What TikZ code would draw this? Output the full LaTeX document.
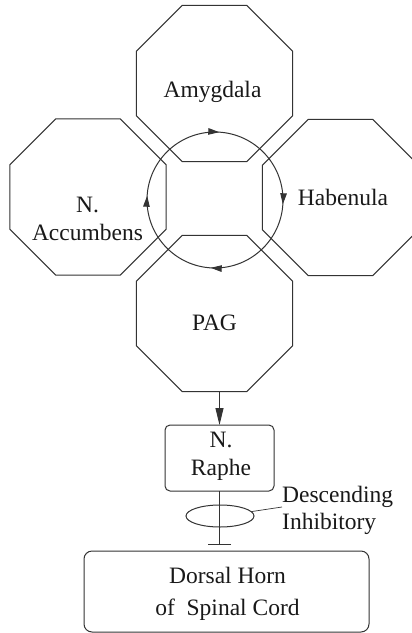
\documentclass[tikz,border=0pt]{standalone}
\usepackage{fontspec}
\setmainfont{Liberation Serif}
\usetikzlibrary{shapes.geometric,arrows.meta,decorations.markings}
\begin{document}
\begin{tikzpicture}[x=1pt,y=-1pt,
  ln/.style={draw=black!80,line width=1pt},
  octa/.style={ln,regular polygon,regular polygon sides=8,minimum size=168.9pt,inner sep=0pt,outer sep=0pt},
  lbl/.style={font=\fontsize{23.5}{28}\selectfont,inner sep=0pt,text=black!90},
  rbox/.style={ln,rectangle,inner sep=0pt,outer sep=0pt}
]
\useasboundingbox (0,0) rectangle (412,633);
\begin{scope}
\clip (0,0) rectangle (412,633);
% octagons
\node[octa] (amy) at (214.5,83.5) {};
\node[octa] (acc) at (88,197) {};
\node[octa] (hab) at (340.5,197.5) {};
\node[octa] (pag) at (214.5,313.5) {};
% labels
\node[lbl,anchor=base] (amyt) at (212.5,97) {Amygdala};
\node[lbl,anchor=base,align=center] (acct) at (87.5,240) {N.\\Accumbens};
\node[lbl,anchor=base] (habt) at (343,205) {Habenula};
\node[lbl,anchor=base] (pagt) at (214.5,330) {PAG};
% circle
\coordinate (cc) at (215,200);
\draw[ln,>={Triangle[length=11pt,width=6.5pt]},decoration={markings,
   mark=at position 0.135 with {\arrow{>}},
   mark=at position 0.385 with {\arrow{>}},
   mark=at position 0.635 with {\arrow{>}},
   mark=at position 0.885 with {\arrow{>}}},
   postaction={decorate}]
  ([shift={(45:68 and -68)}]cc) arc[start angle=45,delta angle=-360,x radius=68,y radius=-68];
% N. Raphe
\node[rbox,rounded corners=5pt,minimum width=109pt,minimum height=66pt] (raphe) at (219.5,458) {};
\node[lbl,anchor=base,align=center] (raphet) at (221,475) {N.\\Raphe};
\draw[ln,-{Triangle[length=17pt,width=8pt]}] (raphe.north |- pag.south) -- (raphe.north);
% Dorsal horn
\node[rbox,rounded corners=8pt,minimum width=285pt,minimum height=81pt] (dorsal) at (226.5,591.5) {};
\node[lbl,anchor=base,align=center] (dorsalt) at (227.5,615) {Dorsal Horn\\[4pt]of\enspace Spinal Cord};
% inhibitory connection
\coordinate (tend) at (219.5,545);
\draw[ln,-{Bar[width=23pt]}] (raphe.south) -- (tend);
\node[ln,ellipse,minimum width=68pt,minimum height=22pt,inner sep=0pt] (bundle) at (220,516) {};
\node[lbl,anchor=base west,align=left] (desc) at (282,529) {Descending\\[-1pt]Inhibitory};
\coordinate (ptr) at (282,507);
\draw[line width=0.7pt,draw=black!80] (bundle.8) -- (ptr);
\end{scope}
\end{tikzpicture}
\end{document}
